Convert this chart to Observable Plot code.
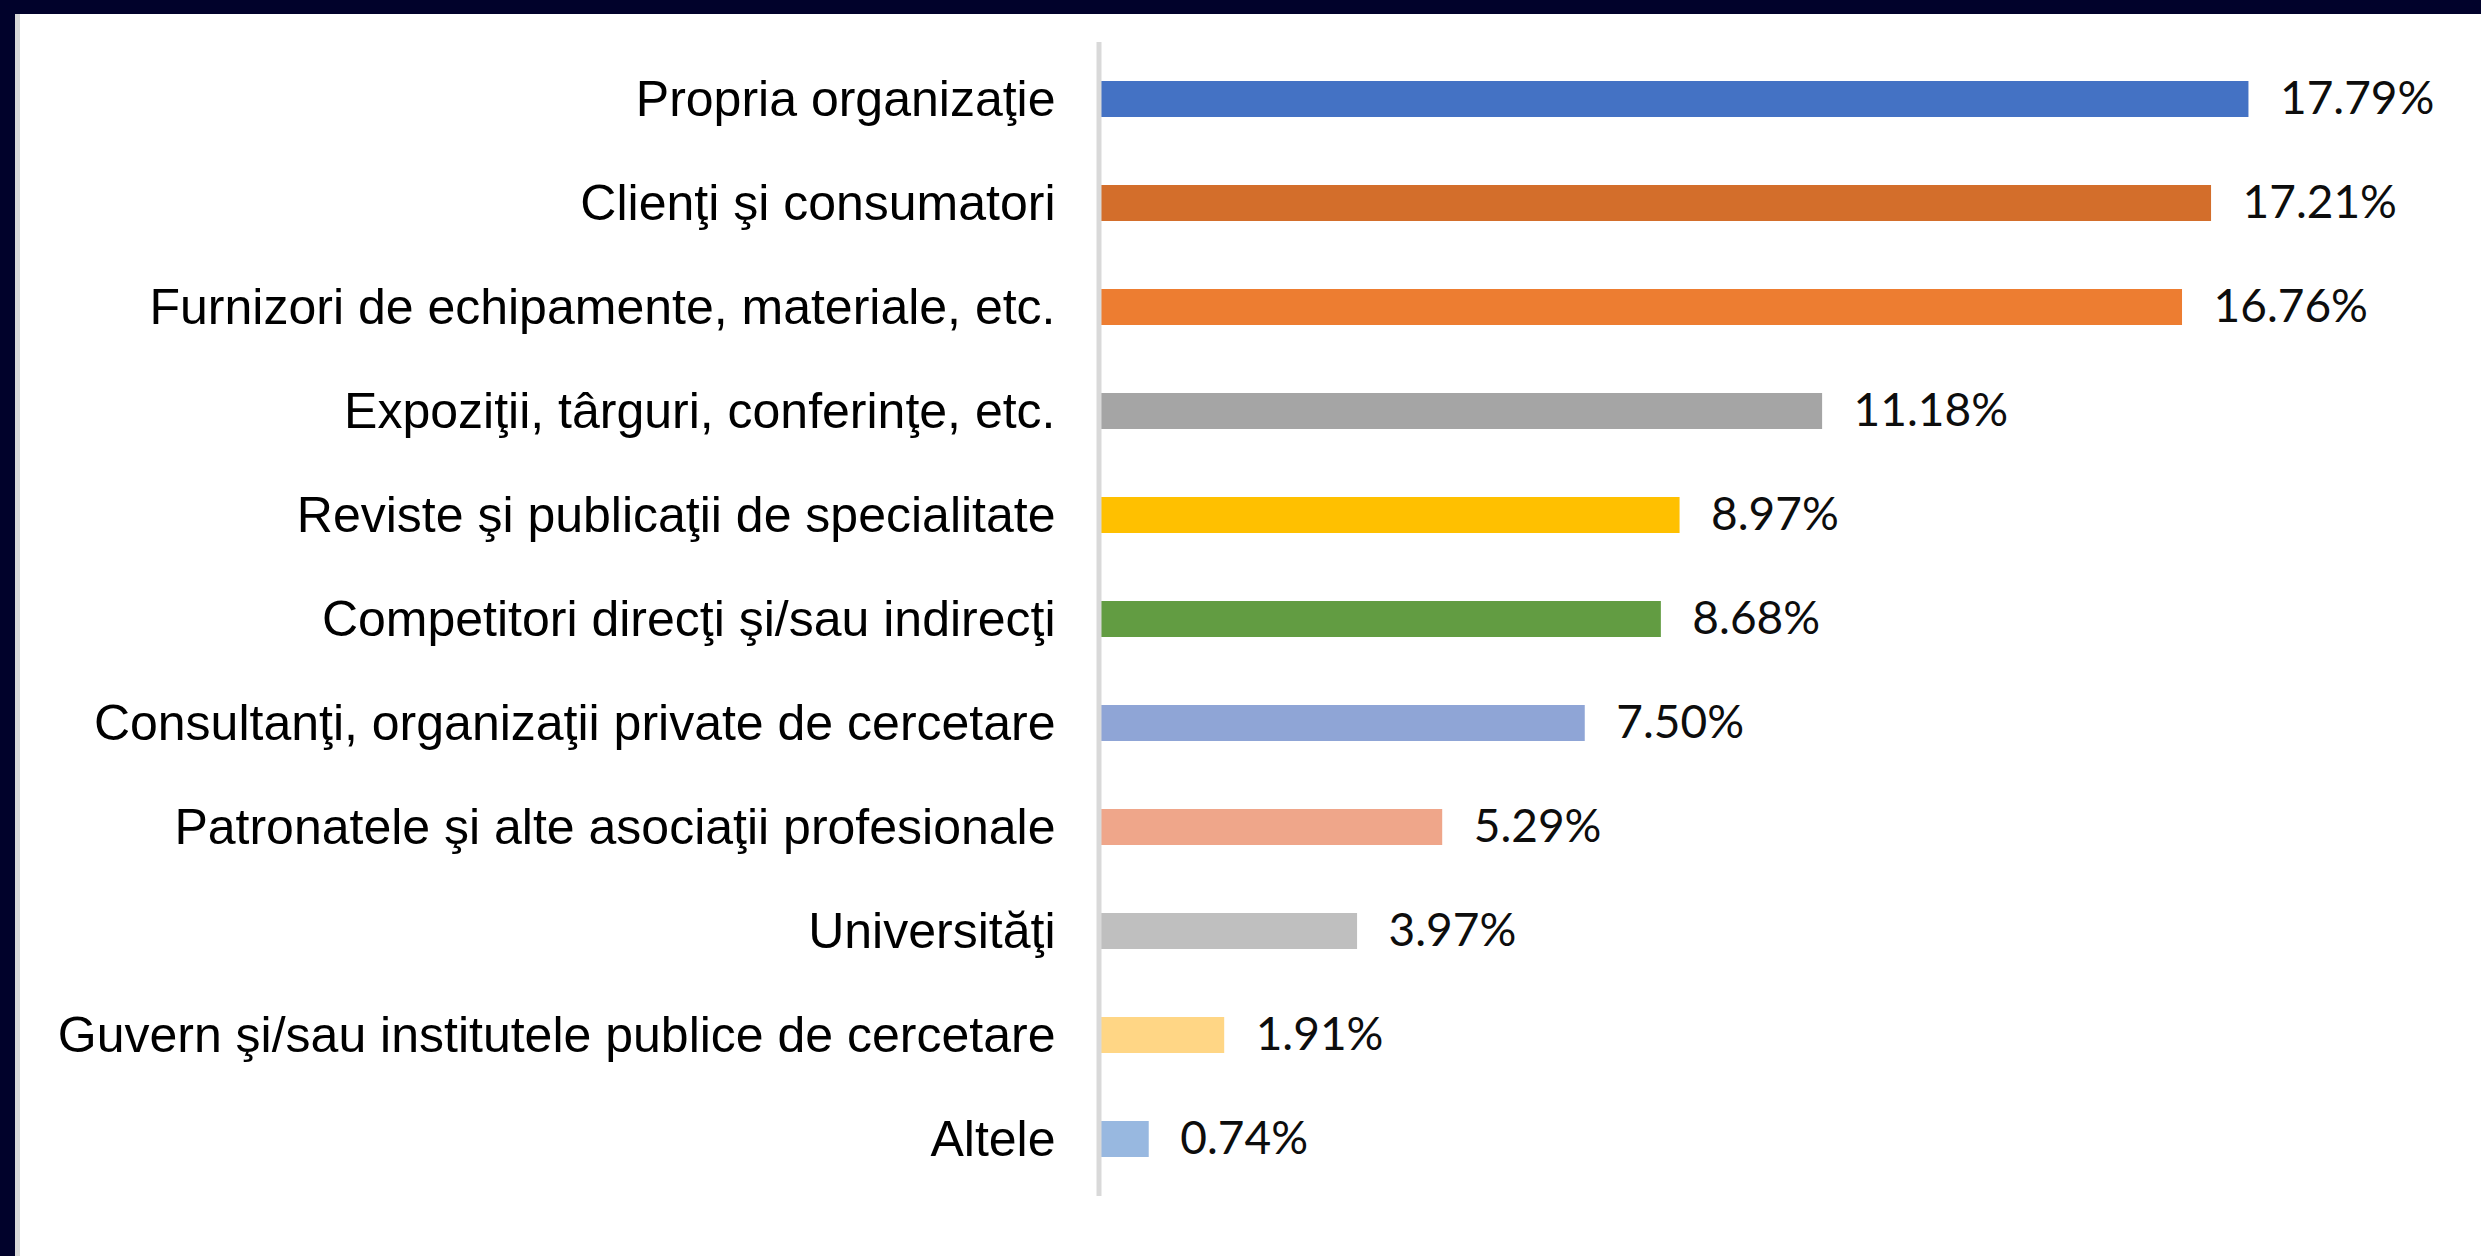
<!DOCTYPE html>
<html>
<head>
<meta charset="utf-8">
<script src="https://cdn.jsdelivr.net/npm/d3@7"></script>
<script src="https://cdn.jsdelivr.net/npm/@observablehq/plot@0.6"></script>
<style>
  html, body { margin: 0; padding: 0; background: #ffffff; }
  #frame {
    width: 2466px; height: 1242px;
    border-top: 14px solid #01022b;
    border-left: 15px solid #01022b;
    background: #ffffff;
  }
  #inner {
    width: 2461px; height: 1242px;
    border-left: 5px solid #d9d9d9;
    background: #ffffff;
  }
  svg { display: block; }
</style>
</head>
<body>
<div id="frame"><div id="inner"></div></div>
<script>
const categories = [
  "Propria organizaţie",
  "Clienţi şi consumatori",
  "Furnizori de echipamente, materiale, etc.",
  "Expoziţii, târguri, conferinţe, etc.",
  "Reviste şi publicaţii de specialitate",
  "Competitori direcţi şi/sau indirecţi",
  "Consultanţi, organizaţii private de cercetare",
  "Patronatele şi alte asociaţii profesionale",
  "Universităţi",
  "Guvern şi/sau institutele publice de cercetare",
  "Altele"
];
const values = [17.79, 17.21, 16.76, 11.18, 8.97, 8.68, 7.50, 5.29, 3.97, 1.91, 0.74];
const colors = ["#4472C4", "#D36E2B", "#ED7D31", "#A5A5A5", "#FFC000", "#629C42",
                "#8FA5D6", "#EFA68A", "#BFBFBF", "#FFD685", "#98B8E0"];

const data = categories.map((c, i) => ({category: c, value: values[i], color: colors[i]}));

const chart = Plot.plot({
  width: 2461,
  height: 1242,
  marginLeft: 1081,
  marginRight: 90,
  marginTop: 28,
  marginBottom: 60,
  style: {background: "#ffffff", fontFamily: "'Liberation Sans', Arial, sans-serif", color: "#000"},
  x: {domain: [0, 20], axis: null},
  y: {domain: categories, paddingInner: 0.65, paddingOuter: 0.325, label: null},
  marks: [
    Plot.barX(data, {x: "value", y: "category", fill: "color"}),
    Plot.ruleX([0], {stroke: "#d9d9d9", strokeWidth: 5, dx: -2.5}),
    Plot.axisY({tickSize: 0, tickPadding: 46, fontSize: 50, label: null,
                fontFamily: "'Liberation Sans', Arial, sans-serif", fill: "#000"}),
    Plot.text(data, {x: "value", y: "category", text: d => d.value.toFixed(2) + "%",
                     textAnchor: "start", dx: 31, fontSize: 46, fill: "#0d0d0d",
                     fontFamily: "Lato, 'Open Sans', sans-serif"})
  ]
});
document.getElementById("inner").appendChild(chart);
</script>
</body>
</html>
